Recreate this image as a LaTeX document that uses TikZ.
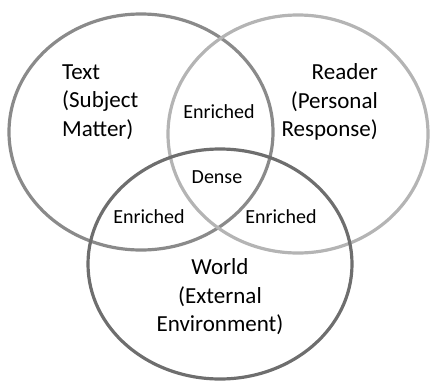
\documentclass[tikz,border=0pt]{standalone}
\usepackage{fontspec}
\setmainfont{Carlito}
\begin{document}
\begin{tikzpicture}[x=1pt,y=-1pt,
  ring/.style={line width=3.2pt},
  big/.style={font=\fontsize{23}{28.5}\selectfont, inner sep=0pt},
  small/.style={font=\fontsize{20}{24}\selectfont, inner sep=0pt}]
\useasboundingbox (0,0) rectangle (431,383);
\definecolor{cText}{HTML}{8A8A8A}
\definecolor{cReader}{HTML}{B4B4B4}
\definecolor{cWorld}{HTML}{6E6E6E}
\draw[ring, cText] (141,132) ellipse [x radius=132, y radius=118];
\draw[ring, cReader] (298,134) ellipse [x radius=130, y radius=119];
\draw[ring, cWorld] (220,264) ellipse [x radius=132, y radius=115];
\node[big, align=left, anchor=west] (text) at (62,102) {Text\\(Subject\\Matter)};
\node[big, align=right, anchor=east] (reader) at (378,102) {Reader\\(Personal\\Response)};
\node[big, align=center] (world) at (220,297) {World\\(External\\Environment)};
\node[small] (e1) at (219,112) {Enriched};
\node[small] (dense) at (217,177) {Dense};
\node[small] (e2) at (149,217) {Enriched};
\node[small] (e3) at (281,217) {Enriched};
\end{tikzpicture}
\end{document}
